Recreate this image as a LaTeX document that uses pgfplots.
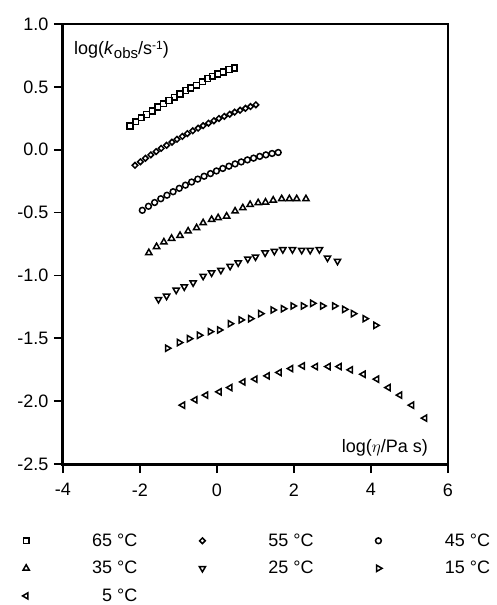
\documentclass[border=0pt]{standalone}
\usepackage{pgfplots}
\pgfplotsset{compat=1.18}
\usepackage{fontspec}
\setmainfont{Liberation Sans}

\begin{document}
\begin{tikzpicture}[font=\fontsize{18pt}{21pt}\selectfont]
\useasboundingbox (-63pt,-141pt) rectangle (433pt,464pt);
\begin{axis}[
  at={(0pt,0pt)}, anchor=south west,
  scale only axis, width=385pt, height=440pt,
  xmin=-4, xmax=6, ymin=-2.5, ymax=1,
  xtick={-4,-2,0,2,4,6},
  ytick={-2.5,-2,-1.5,-1,-0.5,0,0.5,1},
  tick align=outside, tick pos=left,
  major tick length=9pt,
  every tick/.style={black, line width=1.6pt},
  axis line style={line width=2pt},
  /pgf/number format/assume math mode=true,
  yticklabel style={/pgf/number format/fixed, /pgf/number format/fixed zerofill, /pgf/number format/precision=1, xshift=-2pt},
  xticklabel style={yshift=-7pt},
  clip=false,
  legend columns=3,
  legend style={draw=none, fill=none, inner sep=0pt, outer sep=0pt,
    at={(axis description cs:-0.105,-0.1585)}, anchor=north west,
    row sep=13.5pt, nodes={inner sep=0pt},
    /tikz/every odd column/.append style={column sep=53pt},
    /tikz/every even column/.append style={column sep=62pt}},
  legend image code/.code={\draw[#1] plot coordinates {(0pt,0pt)};},
  every axis plot/.append style={only marks, black, mark options={line width=1.5pt, fill=white}},
]
% 65 C
\addplot[mark=square, mark size=2.9pt] coordinates {
(-2.26,0.188) (-2.11,0.222) (-1.97,0.254) (-1.83,0.280) (-1.68,0.307) (-1.54,0.339) (-1.39,0.365) (-1.25,0.392) (-1.11,0.418) (-0.96,0.444) (-0.81,0.471) (-0.68,0.492) (-0.53,0.513) (-0.38,0.540) (-0.24,0.566) (-0.12,0.585) (0.02,0.603) (0.16,0.619) (0.31,0.638) (0.45,0.651)};
\addlegendentry{\makebox[55pt][r]{65 °C}}
% 55 C
\addplot[mark=square, mark size=2.0pt, mark options={rotate=45, line width=1.5pt, fill=white}] coordinates {
(-2.13,-0.124) (-1.99,-0.096) (-1.86,-0.068) (-1.72,-0.041) (-1.58,-0.015) (-1.45,0.011) (-1.31,0.035) (-1.17,0.060) (-1.04,0.083) (-0.90,0.106) (-0.77,0.128) (-0.63,0.150) (-0.49,0.171) (-0.36,0.191) (-0.22,0.211) (-0.08,0.230) (0.05,0.248) (0.19,0.265) (0.33,0.282) (0.46,0.299) (0.60,0.314) (0.74,0.329) (0.87,0.343) (1.01,0.357)};
\addlegendentry{\makebox[55pt][r]{55 °C}}
% 45 C
\addplot[mark=o, mark size=2.9pt] coordinates {
(-1.94,-0.482) (-1.78,-0.450) (-1.62,-0.420) (-1.46,-0.390) (-1.30,-0.362) (-1.14,-0.334) (-0.98,-0.307) (-0.82,-0.282) (-0.66,-0.257) (-0.50,-0.234) (-0.335,-0.211) (-0.17,-0.190) (-0.014,-0.169) (0.15,-0.149) (0.31,-0.131) (0.47,-0.113) (0.63,-0.097) (0.79,-0.081) (0.95,-0.067) (1.11,-0.053) (1.27,-0.041) (1.43,-0.030) (1.59,-0.022)};
\addlegendentry{\makebox[55pt][r]{45 °C}}
% 35 C
\addplot[mark=triangle, mark size=3.6pt] coordinates {
(-1.77,-0.820) (-1.57,-0.772) (-1.38,-0.735) (-1.18,-0.706) (-0.96,-0.683) (-0.75,-0.648) (-0.53,-0.622) (-0.36,-0.582) (-0.14,-0.556) (0.03,-0.542) (0.25,-0.529) (0.47,-0.489) (0.67,-0.463) (0.86,-0.437) (1.07,-0.423) (1.26,-0.418) (1.46,-0.402) (1.68,-0.391) (1.88,-0.391) (2.07,-0.391) (2.31,-0.391)};
\addlegendentry{\makebox[55pt][r]{35 °C}}
% 25 C
\addplot[mark=triangle, mark size=3.6pt, mark options={rotate=180, line width=1.5pt, fill=white}] coordinates {
(-1.52,-1.190) (-1.31,-1.164) (-1.06,-1.116) (-0.85,-1.090) (-0.62,-1.058) (-0.36,-1.005) (-0.14,-0.979) (0.10,-0.958) (0.34,-0.926) (0.55,-0.899) (0.80,-0.868) (1.00,-0.852) (1.25,-0.820) (1.49,-0.807) (1.71,-0.794) (1.96,-0.794) (2.20,-0.799) (2.42,-0.799) (2.66,-0.794) (2.87,-0.860) (3.13,-0.886)};
\addlegendentry{\makebox[55pt][r]{25 °C}}
% 15 C
\addplot[mark=triangle, mark size=3.6pt, mark options={rotate=-90, line width=1.5pt, fill=white}] coordinates {
(-1.29,-1.579) (-0.98,-1.534) (-0.72,-1.503) (-0.46,-1.476) (-0.18,-1.447) (0.06,-1.434) (0.34,-1.384) (0.62,-1.354) (0.87,-1.344) (1.13,-1.304) (1.45,-1.275) (1.72,-1.265) (1.97,-1.243) (2.24,-1.243) (2.48,-1.222) (2.74,-1.243) (3.05,-1.243) (3.31,-1.270) (3.54,-1.304) (3.84,-1.344) (4.12,-1.397)};
\addlegendentry{\makebox[55pt][r]{15 °C}}
% 5 C
\addplot[mark=triangle, mark size=3.6pt, mark options={rotate=90, line width=1.5pt, fill=white}] coordinates {
(-0.89,-2.032) (-0.57,-1.989) (-0.29,-1.952) (0.06,-1.926) (0.34,-1.892) (0.68,-1.847) (0.99,-1.825) (1.31,-1.799) (1.62,-1.772) (1.92,-1.741) (2.22,-1.720) (2.56,-1.725) (2.89,-1.725) (3.18,-1.725) (3.47,-1.751) (3.80,-1.786) (4.15,-1.825) (4.45,-1.892) (4.75,-1.952) (5.06,-2.032) (5.40,-2.135)};
\addlegendentry{\makebox[55pt][r]{5 °C}}
\draw[line width=3pt] (rel axis cs:0,1) -- (rel axis cs:0,0) -- (rel axis cs:1,0);
\node[anchor=base west, inner sep=0pt] at (axis description cs:0.0286,0.930) {log(\textit{k}\raisebox{-0.35ex}{\fontsize{15pt}{15pt}\selectfont obs}/s\raisebox{0.6ex}{\fontsize{12pt}{12pt}\selectfont -1})};
\node[anchor=base east, inner sep=0pt] at (axis description cs:0.948,0.027) {log(\textit{\fontsize{19pt}{21pt}\selectfont$\eta$}/Pa s)};
\end{axis}
\end{tikzpicture}
\end{document}
